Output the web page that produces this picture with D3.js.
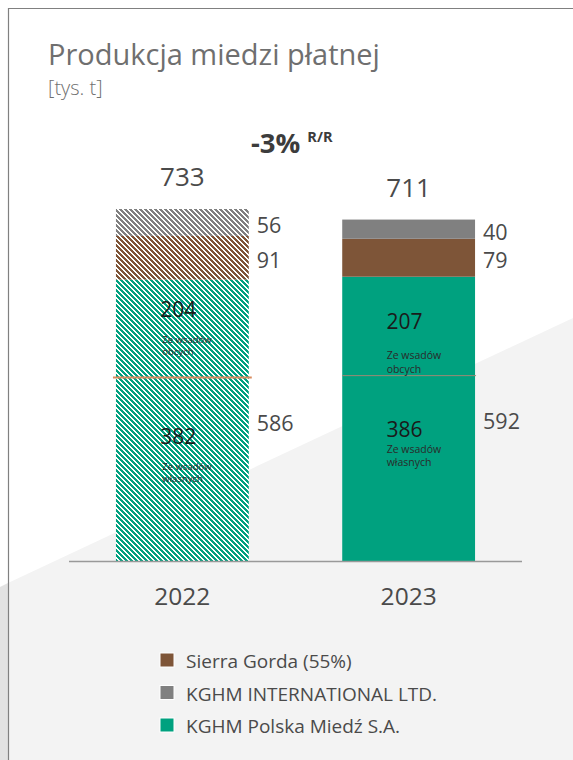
<!DOCTYPE html>
<html>
<head>
<meta charset="utf-8">
<script src="https://cdn.jsdelivr.net/npm/d3@7"></script>
<style>
  body { margin: 0; background: #fff; }
  svg { display: block; font-family: "Open Sans", sans-serif; }
</style>
</head>
<body>
<div id="chart"></div>
<script>
// values in tys. t
const years = ["2022", "2023"]
const kghmPolska = [586, 592]
const kghmOwn = [382, 386]        // ze wsadów własnych
const kghmExternal = [204, 207]   // ze wsadów obcych
const sierraGorda = [91, 79]
const kghmIntl = [56, 40]
const totals = [733, 711]
const changeLabel = "-3%"
const legendLabels = ["Sierra Gorda (55%)", "KGHM INTERNATIONAL LTD.", "KGHM Polska Miedź S.A."]

const W = 573, H = 760
const colors = { green: "#00a17f", brown: "#7e5538", grey: "#808080" }

const svg = d3.select("#chart").append("svg")
  .attr("width", W)
  .attr("height", H)

// background shapes + frame
svg.append("polygon")
  .attr("points", [[8, 583], [W, 318], [W, H], [8, H]].join(" "))
  .attr("fill", "#f3f3f3")
svg.append("polygon")
  .attr("points", [[0, 587], [8, 583], [8, H], [0, H]].join(" "))
  .attr("fill", "#e2e2e2")
svg.append("path")
  .attr("d", `M8.5,${H} L8.5,8.5 L${W},8.5`)
  .attr("fill", "none")
  .attr("stroke", "#808080")
  .attr("stroke-width", 1.2)

// pixel-stair hatch patterns for 2022 (period 5, 3px band)
const defs = svg.append("defs")
const P = 5
Object.entries(colors).forEach(([name, c]) => {
  const p = defs.append("pattern")
    .attr("id", "hatch-" + name)
    .attr("patternUnits", "userSpaceOnUse")
    .attr("width", P).attr("height", P)
  p.append("rect").attr("width", P).attr("height", P).attr("fill", "#fff")
  d3.range(P).forEach(r => {
    d3.range(3).forEach(k => {
      p.append("rect")
        .attr("x", (r + k) % P).attr("y", r)
        .attr("width", 1).attr("height", 1)
        .attr("fill", c)
        .attr("shape-rendering", "crispEdges")
    })
  })
})

// title
svg.append("text")
  .attr("x", 48).attr("y", 65)
  .attr("font-size", 29).attr("font-weight", 400)
  .attr("fill", "#6f6f6f")
  .text("Produkcja miedzi płatnej")
svg.append("text")
  .attr("x", 48).attr("y", 95)
  .attr("font-size", 20).attr("font-weight", 300)
  .attr("fill", "#6f6f6f")
  .text("[tys. t]")

const x = d3.scaleBand()
  .domain(years)
  .range([69, 522])
  .paddingInner(0.413)
  .paddingOuter(0.2075)

const y = d3.scaleLinear()
  .domain([0, d3.max(totals)])
  .range([561, 209])

// stacked segments, bottom up
const rows = years.map((yr, i) => ({
  year: yr, i,
  segs: [
    { key: "green", from: 0, to: kghmPolska[i], label: kghmPolska[i] },
    { key: "brown", from: kghmPolska[i], to: kghmPolska[i] + sierraGorda[i], label: sierraGorda[i] },
    { key: "grey", from: kghmPolska[i] + sierraGorda[i], to: totals[i], label: kghmIntl[i] }
  ]
}))

const bar = svg.selectAll("g.bar")
  .data(rows)
  .join("g")
  .attr("class", "bar")

bar.selectAll("rect")
  .data(d => d.segs.map(s => ({ ...s, year: d.year })))
  .join("rect")
  .attr("x", d => x(d.year))
  .attr("width", x.bandwidth())
  .attr("y", d => y(d.to))
  .attr("height", d => y(d.from) - y(d.to))
  .attr("fill", d => d.year === "2022" ? `url(#hatch-${d.key})` : colors[d.key])

// value labels on the right of each bar
bar.selectAll("text.val")
  .data(d => d.segs.map(s => ({ ...s, year: d.year })))
  .join("text")
  .attr("class", "val")
  .attr("x", d => x(d.year) + x.bandwidth() + 8)
  .attr("y", d => (y(d.from) + y(d.to)) / 2 + 2)
  .attr("dominant-baseline", "central")
  .attr("font-size", 21.5)
  .attr("fill", "#4a4a4a")
  .text(d => d.label)

// totals
svg.selectAll("text.total")
  .data(years)
  .join("text")
  .attr("class", "total")
  .attr("x", d => x(d) + x.bandwidth() / 2)
  .attr("y", (d, i) => y(totals[i]) - 33)
  .attr("text-anchor", "middle")
  .attr("dominant-baseline", "central")
  .attr("font-size", 26)
  .attr("fill", "#4a4a4a")
  .text((d, i) => totals[i])

// change
const ch = svg.append("text")
  .attr("x", 251).attr("y", 153)
  .attr("font-weight", 700)
  .attr("fill", "#3c3c3c")
ch.append("tspan").attr("font-size", 27.5).text(changeLabel)
ch.append("tspan").attr("font-size", 14.5).attr("dx", 7).attr("dy", -11).text("R/R")

// own / external split lines
svg.selectAll("line.split")
  .data(years)
  .join("line")
  .attr("class", "split")
  .attr("x1", d => x(d) - (d === "2022" ? 3 : 0))
  .attr("x2", d => x(d) + x.bandwidth() + (d === "2022" ? 3 : 1))
  .attr("y1", (d, i) => y(kghmOwn[i]))
  .attr("y2", (d, i) => y(kghmOwn[i]))
  .attr("stroke", d => d === "2022" ? "#d98c5f" : "#9c8a74")
  .attr("stroke-width", d => d === "2022" ? 2 : 1)

// inner labels: small layout nudges per bar (offsets from segment top)
const innerLayout = {
  "2022": { ext: [29, 60, 72], own: [58, 89, 101], sub: 9.5 },
  "2023": { ext: [44, 78, 92], own: [53, 73, 86], sub: 10.5 }
}
years.forEach((yr, i) => {
  const cx = x(yr) + x.bandwidth() / 2
  const L = innerLayout[yr]
  const parts = [
    { top: y(kghmPolska[i]), val: kghmExternal[i], sub: ["Ze wsadów", "obcych"], off: L.ext },
    { top: y(kghmOwn[i]), val: kghmOwn[i], sub: ["Ze wsadów", "własnych"], off: L.own }
  ]
  parts.forEach(p => {
    svg.append("text")
      .attr("x", cx - 4)
      .attr("y", p.top + p.off[0])
      .attr("text-anchor", "middle")
      .attr("dominant-baseline", "central")
      .attr("font-size", 21)
      .attr("fill", "#1a1a1a")
      .text(p.val)
    p.sub.forEach((s, k) => {
      svg.append("text")
        .attr("x", cx - (yr === "2022" ? 20 : 22))
        .attr("y", p.top + p.off[k + 1])
        .attr("dominant-baseline", "central")
        .attr("font-size", L.sub)
        .attr("fill", "#2a2a2a")
        .text(s)
    })
  })
})

// axis
const xAxis = svg.append("g")
  .attr("transform", "translate(0,561.5)")
  .call(d3.axisBottom(x).tickSize(0).tickPadding(26).tickSizeOuter(0))
xAxis.select(".domain")
  .attr("stroke", "#999").attr("stroke-width", 1.5)
  .attr("d", "M69,0H522")
xAxis.selectAll("text")
  .attr("font-size", 24.5)
  .attr("fill", "#4a4a4a")
  .attr("font-family", "Open Sans, sans-serif")

// legend
const legendColors = [colors.brown, colors.grey, colors.green]
const leg = svg.selectAll("g.leg")
  .data(legendLabels)
  .join("g")
  .attr("class", "leg")
  .attr("transform", (d, i) => `translate(160,${660 + i * 32.5})`)
leg.append("rect")
  .attr("x", 0).attr("y", -7)
  .attr("width", 14).attr("height", 14)
  .attr("fill", (d, i) => legendColors[i])
  .attr("stroke", "#fff").attr("stroke-width", 1)
leg.append("text")
  .attr("x", 26).attr("y", 1)
  .attr("dominant-baseline", "central")
  .attr("font-size", 19)
  .attr("fill", "#4a4a4a")
  .text(d => d)
</script>
</body>
</html>
